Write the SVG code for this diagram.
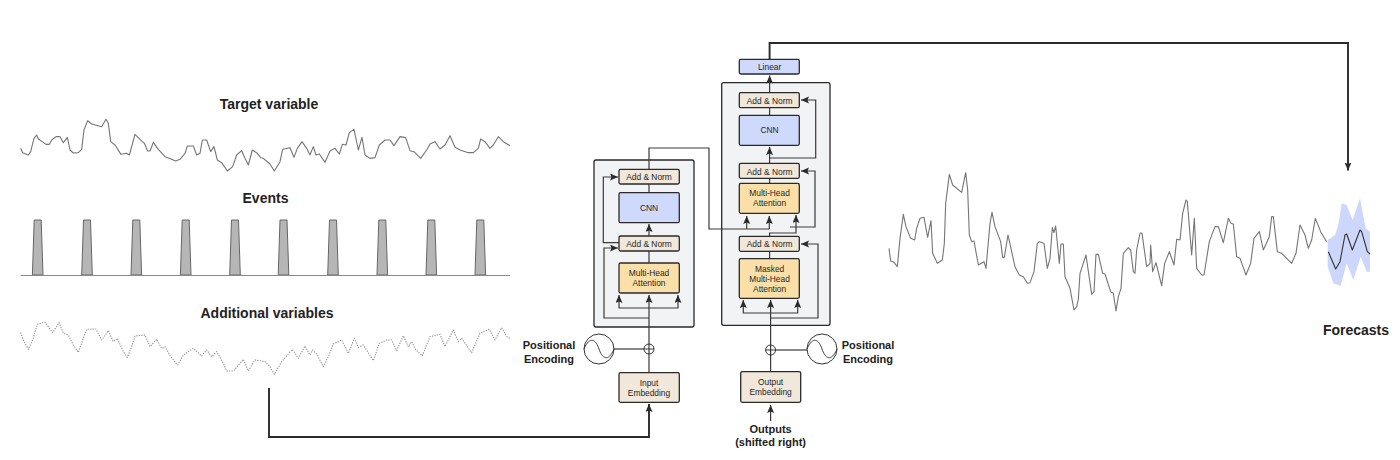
<svg xmlns="http://www.w3.org/2000/svg" xmlns:xlink="http://www.w3.org/1999/xlink" width="1400" height="460" viewBox="0 0 1400 460">
<style>
text{font-family:"Liberation Sans",Arial,sans-serif;fill:#222;text-anchor:middle}
.t{font-size:14px;font-weight:700}
.l{font-size:11px;font-weight:700}
.n{font-size:8.400px;fill:#1f1f1f}
.box{fill:#f2f3f5;stroke:#2a2a2a;stroke-width:1.3}
.an,.emb{fill:#f1e7da;stroke:#2a2a2a;stroke-width:1.3}
.cnn{fill:#cfd9fb;stroke:#2a2a2a;stroke-width:1.3}
.mha{fill:#fbdfa9;stroke:#2a2a2a;stroke-width:1.3}
.c{fill:none;stroke:#3a3a3a;stroke-width:1.2}
.a{marker-end:url(#ah)}
.big{fill:none;stroke:#2a2a2a;stroke-width:1.9;marker-end:url(#ah)}
.sig{fill:#fff;stroke:#333;stroke-width:1}
.series{fill:none;stroke:#757575;stroke-width:1.1;stroke-linejoin:round;vector-effect:non-scaling-stroke}
.dots{stroke:#8a8a8a;stroke-dasharray:1.200 1.300}
.ev{fill:#b6b6b6;stroke:#666;stroke-width:1}
</style>
<defs>
<marker id="ah" markerUnits="userSpaceOnUse" markerWidth="9" markerHeight="8" refX="8" refY="3.500" orient="auto"><path d="M0 0L8 3.500L0 7L1.500 3.500Z" fill="#2a2a2a"/></marker>
<path id="trap" class="ev" d="M-3.500 220H3.500L5.300 275H-5.300Z"/>
</defs>

<g id="target-variable">
<text class="t" x="269" y="109">Target variable</text>
<polyline class="series" transform="translate(10 90) scale(.33333)" points="32,175 38,188 55,195 62,185 72,145 80,135 85,147 100,157 108,163 118,163 125,150 138,140 150,140 160,158 172,142 180,180 190,189 205,188 215,178 222,120 233,92 245,102 275,110 288,88 295,100 302,155 315,165 333,193 350,190 358,195 375,133 390,148 403,160 413,183 420,183 430,157 445,178 465,200 485,208 497,213 510,208 525,190 532,168 550,168 560,195 570,190 577,150 590,150 602,185 612,170 622,210 635,218 652,243 668,230 680,195 695,182 705,205 715,225 727,180 740,188 752,203 760,205 780,222 793,243 810,215 818,178 840,173 852,202 862,175 876,155 890,175 900,195 910,170 918,195 928,192 945,217 960,183 975,175 988,192 997,163 1008,165 1018,128 1032,118 1045,180 1056,142 1065,195 1080,205 1095,203 1108,165 1125,150 1140,150 1152,167 1170,140 1187,143 1200,182 1212,185 1232,205 1250,180 1260,162 1275,155 1290,177 1305,165 1320,137 1335,172 1350,180 1375,188 1390,188 1405,175 1412,147 1425,155 1440,175 1450,165 1465,140 1480,155 1500,167"/>
</g>

<g id="events">
<text class="t" x="265.500" y="203">Events</text>
<use xlink:href="#trap" x="37.700"/><use xlink:href="#trap" x="87"/><use xlink:href="#trap" x="136.300"/><use xlink:href="#trap" x="185.700"/><use xlink:href="#trap" x="235"/><use xlink:href="#trap" x="283.500"/><use xlink:href="#trap" x="333"/><use xlink:href="#trap" x="382.300"/><use xlink:href="#trap" x="431.300"/><use xlink:href="#trap" x="480.300"/>
<line x1="20.700" y1="275.500" x2="510" y2="275.500" stroke="#8a8a8a" stroke-width="1"/>
</g>

<g id="additional-variables">
<text class="t" x="267" y="318">Additional variables</text>
<polyline class="series dots" transform="translate(10 90) scale(.33333)" points="32,728 42,755 55,778 68,750 82,703 105,697 115,710 128,728 147,698 160,730 175,735 190,765 205,787 218,750 230,718 258,717 275,750 295,722 310,755 322,745 340,785 352,802 365,770 375,738 405,735 420,770 440,748 455,775 465,770 482,800 503,825 520,795 550,775 575,798 590,780 605,800 620,785 640,820 650,843 670,843 700,808 715,843 735,810 765,815 780,830 793,853 815,815 847,778 865,805 885,768 900,795 908,780 922,795 940,830 955,800 970,762 995,750 1015,790 1033,745 1045,772 1060,765 1090,812 1108,760 1130,750 1145,750 1160,782 1180,737 1195,770 1205,755 1218,780 1237,797 1260,740 1290,733 1305,770 1330,720 1345,755 1355,745 1385,788 1410,730 1438,718 1455,750 1475,713 1490,740 1500,745"/>
</g>

<g id="series-forecast">
<polygon fill="#ccd7fb" transform="translate(1130 150) scale(.33333)" points="593,270 615,255 625,225 635,160 650,165 668,210 690,145 707,235 720,245 720,365 710,365 692,320 670,390 650,340 632,408 610,400 593,350"/>
<polyline class="series" transform="translate(880 160) scale(.33333)" points="27,265 32,303 42,307 52,320 60,235 70,163 78,200 92,235 104,240 110,205 120,175 132,172 143,232 153,182 158,280 172,310 187,300 193,250 197,130 208,43 218,75 245,97 257,38 263,90 268,225 275,245 282,243 295,315 312,305 318,325 330,190 336,157 345,200 362,245 368,292 373,292 384,225 405,320 418,345 430,350 442,370 450,368 462,335 472,250 478,245 492,250 502,325 510,295 517,203 522,218 527,198 538,310 543,252 550,252 555,350 570,385 582,450 590,440 595,418 600,340 618,285 635,403 642,395 648,283 655,283 668,340 675,342 692,395 700,400 708,453 715,410 723,385 730,280 745,263 752,270 760,335 765,340 770,270 780,220"/>
<polyline class="series" transform="translate(1130 150) scale(.33333)" points="30,248 36,250 50,350 60,340 62,285 68,365 78,338 95,407 104,340 118,305 132,345 140,268 150,270 158,190 168,150 172,155 185,315 193,205 200,355 215,375 222,375 238,275 255,230 265,230 280,278 295,205 303,220 310,222 320,320 330,325 348,375 362,340 372,265 388,245 400,300 418,260 425,200 430,200 442,305 455,310 470,325 485,340 498,310 510,225 525,255 535,295 545,270 556,205 572,245 590,275"/>
<polyline class="series" style="stroke:#333" transform="translate(1130 150) scale(.33333)" points="595,305 617,357 630,335 645,255 650,252 667,300 690,240 695,245 712,305 720,312"/>
<text class="t" x="1356" y="335">Forecasts</text>
</g>

<g id="encoder-box"><rect class="box" x="594" y="160" width="100" height="167" rx="2"/></g>
<g id="decoder-box"><rect class="box" x="721.700" y="82.700" width="108.300" height="242.600" rx="2"/></g>

<g id="connectors">
<path class="big" d="M269 388V437H649V404"/>
<path class="big" d="M769.600 59V43H1348V170.500"/>
<path class="c" d="M649 184V148H709V229H769.300"/>
<path class="c a" d="M746.700 229V216"/>
<path class="c a" d="M769.300 229V216"/>
<path class="c" d="M649 372V354M649 344V308"/>
<path class="c a" d="M649 308V295"/>
<path class="c a" d="M649 308H619V295"/>
<path class="c a" d="M649 308H678V295"/>
<path class="c a" d="M649 318H604V248H618"/>
<path class="c a" d="M619 242.700H603.300V177H618"/>
<path class="c" d="M649 263V251"/>
<path class="c a" d="M649 236V224"/>
<path class="c" d="M649 192V184"/>
<path class="c" d="M614 349H644"/>
<path class="c" d="M770.600 372V355M770.600 345V325"/>
<path class="c a" d="M770.600 325V300"/>
<path class="c a" d="M770.600 313H743.300V300"/>
<path class="c a" d="M770.600 313H797.700V300"/>
<path class="c a" d="M770.600 318H818V244H801"/>
<path class="c" d="M769.600 258V251"/>
<path class="c a" d="M769.600 236V233H796V215"/>
<path class="c a" d="M790 227H815V171H801"/>
<path class="c" d="M769.600 183V178"/>
<path class="c a" d="M769.600 163V147"/>
<path class="c a" d="M769.600 158H815.700V100H801"/>
<path class="c" d="M769.600 115V108"/>
<path class="c a" d="M769.600 92V75.500"/>
<path class="c" d="M776 350H807"/>
<path class="c a" d="M770.600 421V405"/>
</g>

<g id="enc-add-norm-2"><rect class="an" x="619" y="169.300" width="60.300" height="14.700" rx="1.500"/><text class="n" x="649" y="180">Add &amp; Norm</text></g>
<g id="enc-cnn"><rect class="cnn" x="619" y="192.700" width="60.300" height="30" rx="1.500"/><text class="n" x="649" y="210.500">CNN</text></g>
<g id="enc-add-norm-1"><rect class="an" x="619" y="236" width="60.300" height="15" rx="1.500"/><text class="n" x="649" y="247">Add &amp; Norm</text></g>
<g id="enc-attention"><rect class="mha" x="619" y="263" width="60.300" height="30" rx="1.500"/><text class="n" x="649" y="276">Multi-Head</text><text class="n" x="649" y="286">Attention</text></g>
<g id="input-embedding"><rect class="emb" x="619" y="372.700" width="60.300" height="29.600" rx="1.500"/><text class="n" x="649" y="385.500">Input</text><text class="n" x="649" y="395.500">Embedding</text></g>
<g id="enc-plus"><circle class="sig" cx="649" cy="349" r="5"/><path class="c" d="M644 349H654M649 344V354"/></g>
<g id="enc-pos"><circle class="sig" cx="599" cy="349" r="15"/><path class="c" d="M584 349C590 335 596 340 599 349S608 363 614 349" style="stroke-width:1"/><text class="l" x="549" y="349">Positional</text><text class="l" x="549" y="363">Encoding</text></g>

<g id="linear"><rect class="cnn" x="739.300" y="59.300" width="60" height="14.700" rx="1.500"/><text class="n" x="769.600" y="70">Linear</text></g>
<g id="dec-add-norm-3"><rect class="an" x="739.300" y="92.700" width="60" height="15" rx="1.500"/><text class="n" x="769.600" y="103.500">Add &amp; Norm</text></g>
<g id="dec-cnn"><rect class="cnn" x="739.300" y="115.300" width="60" height="30" rx="1.500"/><text class="n" x="769.600" y="132.500">CNN</text></g>
<g id="dec-add-norm-2"><rect class="an" x="739.300" y="163.300" width="60" height="15" rx="1.500"/><text class="n" x="769.600" y="174.500">Add &amp; Norm</text></g>
<g id="dec-attention"><rect class="mha" x="739.300" y="183.300" width="60" height="30" rx="1.500"/><text class="n" x="769.600" y="196">Multi-Head</text><text class="n" x="769.600" y="206">Attention</text></g>
<g id="dec-add-norm-1"><rect class="an" x="739.300" y="236.300" width="60" height="15" rx="1.500"/><text class="n" x="769.600" y="247">Add &amp; Norm</text></g>
<g id="dec-masked"><rect class="mha" x="739.300" y="258.700" width="60" height="39.600" rx="1.500"/><text class="n" x="769.600" y="271.500">Masked</text><text class="n" x="769.600" y="281.500">Multi-Head</text><text class="n" x="769.600" y="291.500">Attention</text></g>
<g id="output-embedding"><rect class="emb" x="740.700" y="371.700" width="60" height="30.600" rx="1.500"/><text class="n" x="770.600" y="385">Output</text><text class="n" x="770.600" y="395">Embedding</text></g>
<g id="dec-plus"><circle class="sig" cx="770.600" cy="350" r="5"/><path class="c" d="M765.600 350H775.600M770.600 345V355"/></g>
<g id="dec-pos"><circle class="sig" cx="822" cy="349" r="15"/><path class="c" d="M807 349C813 335 819 340 822 349S831 363 837 349" style="stroke-width:1"/><text class="l" x="868" y="349">Positional</text><text class="l" x="868" y="363">Encoding</text></g>
<g id="outputs"><text class="l" x="770.600" y="433">Outputs</text><text class="l" x="770.600" y="446">(shifted right)</text></g>
</svg>
